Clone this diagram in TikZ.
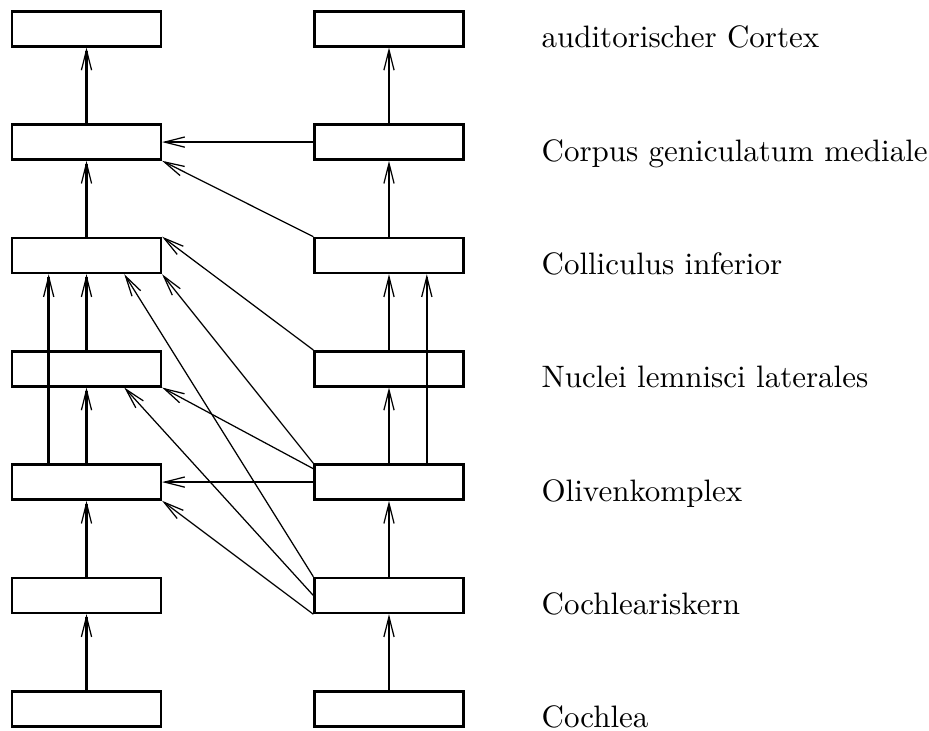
\documentclass[tikz,border=0pt]{standalone}
\usepackage{tikz}
\usetikzlibrary{arrows.meta, calc}

\tikzset{
  station/.style={draw, line width=0.8pt, minimum width=48pt, minimum height=11.3pt, inner sep=0pt},
  levellabel/.style={anchor=base west, inner sep=0pt},
  thickpath/.style={->, line width=0.8pt},
  thinpath/.style={->, line width=0.55pt},
  crosspath/.style={->, line width=0.4pt}
}

\begin{document}
\begin{tikzpicture}[x=0.3226pt, y=0.3226pt, >={Straight Barb[length=6.5pt, width=3.3pt, line width=0.4pt]}]

    \useasboundingbox (0,0) rectangle (929,731);

    % draw the stations of the left side:
    \node[station] (cortexL) at (86.5,702.2) {};
    \node[station] (corpusL) at (86.5,588.9) {};
    \node[station] (collL)   at (86.5,475.5) {};
    \node[station] (nuclL)   at (86.5,362.2) {};
    \node[station] (olivL)   at (86.5,248.9) {};
    \node[station] (cochkL)  at (86.5,135.5) {};
    \node[station] (cochL)   at (86.5,22.2) {};

    % draw the stations of the right side:
    \node[station] (cortexR) at (389,702.2) {};
    \node[station] (corpusR) at (389,588.9) {};
    \node[station] (collR)   at (389,475.5) {};
    \node[station] (nuclR)   at (389,362.2) {};
    \node[station] (olivR)   at (389,248.9) {};
    \node[station] (cochkR)  at (389,135.5) {};
    \node[station] (cochR)   at (389,22.2) {};

    % names of the levels to the right:
    \node[levellabel] (labcortex) at (541,683.2) {auditorischer Cortex};
    \node[levellabel] (labcorpus) at (541,569.9) {Corpus geniculatum mediale};
    \node[levellabel] (labcoll)   at (541,456.5) {Colliculus inferior};
    \node[levellabel] (labnucl)   at (541,343.2) {Nuclei lemnisci laterales};
    \node[levellabel] (laboliv)   at (541,229.9) {Olivenkomplex};
    \node[levellabel] (labcochk)  at (541,116.5) {Cochleariskern};
    \node[levellabel] (labcoch)   at (541,3.2) {Cochlea};

    % upward pathway on the left side:
    \draw[thickpath] (cochL.north) -- (cochkL.south);
    \draw[thickpath] (cochkL.north) -- (olivL.south);
    \draw[thickpath] (olivL.north) -- (nuclL.south);
    \draw[thickpath] ($(olivL.north west)!0.25!(olivL.north east)$) -- ($(collL.south west)!0.25!(collL.south east)$);
    \draw[thickpath] (nuclL.north) -- (collL.south);
    \draw[thickpath] (collL.north) -- (corpusL.south);
    \draw[thickpath] (corpusL.north) -- (cortexL.south);

    % upward pathway on the right side:
    \draw[thickpath] (cochR.north) -- (cochkR.south);
    \draw[thinpath] (cochkR.north) -- (olivR.south);
    \draw[thinpath] (olivR.north) -- (nuclR.south);
    \draw[thickpath] ($(olivR.north west)!0.75!(olivR.north east)$) -- ($(collR.south west)!0.75!(collR.south east)$);
    \draw[thinpath] (nuclR.north) -- (collR.south);
    \draw[thinpath] (collR.north) -- (corpusR.south);
    \draw[thinpath] (corpusR.north) -- (cortexR.south);

    % crossing fibres from the right to the left side:
    \draw[thickpath] (olivR.west) -- (olivL.east);
    \draw[thinpath] (corpusR.west) -- (corpusL.east);
    \draw[crosspath] (cochkR.south west) -- (olivL.south east);
    \draw[crosspath] (cochkR.west) -- ($(nuclL.south west)!0.75!(nuclL.south east)$);
    \draw[crosspath] (cochkR.north west) -- ($(collL.south west)!0.75!(collL.south east)$);
    \draw[crosspath] (olivR.170) -- (nuclL.south east);
    \draw[crosspath] (olivR.north west) -- (collL.south east);
    \draw[crosspath] (nuclR.north west) -- (collL.north east);
    \draw[crosspath] (collR.north west) -- (corpusL.south east);

\end{tikzpicture}
\end{document}
